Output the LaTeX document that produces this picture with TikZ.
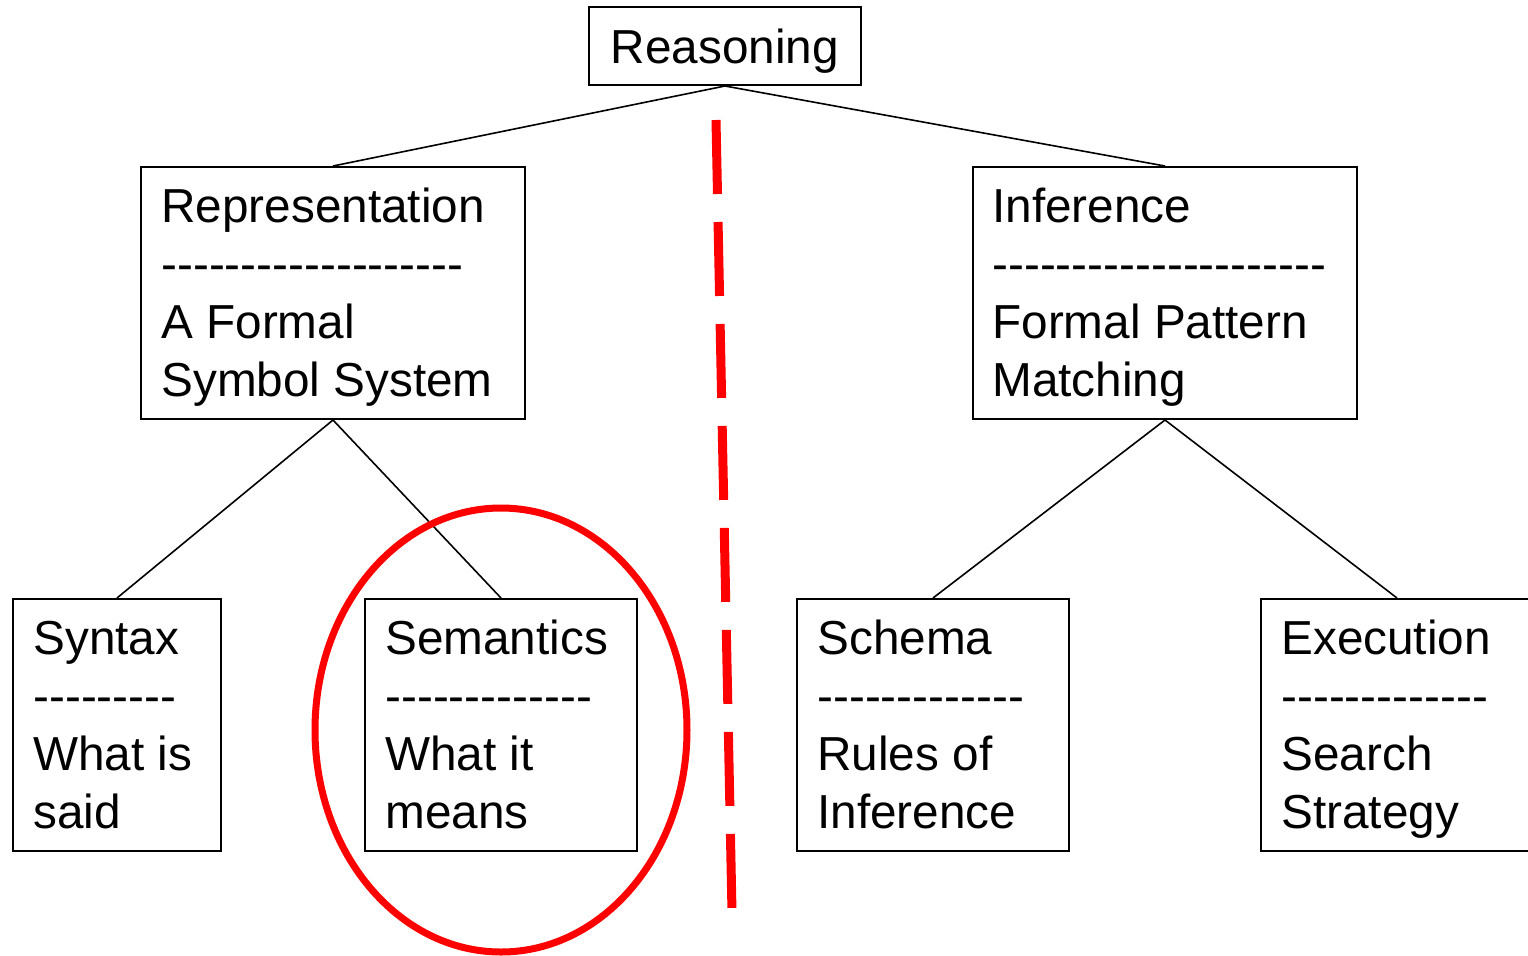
\documentclass[tikz,border=0pt]{standalone}
\usepackage{fontspec}
\newfontfamily\arial{Liberation Sans}
\usetikzlibrary{shapes.geometric}
\begin{document}
\begin{tikzpicture}[x=0.5pt,y=-0.5pt,
  box/.style={draw, line width=1pt, rectangle, inner sep=0pt},
  bigbox/.style={box, minimum width=192pt, minimum height=126pt},
  smallbox/.style={box, minimum width=136pt, minimum height=126pt},
  txt/.style={font=\arial\fontsize{23.85}{29}\selectfont, align=left, inner sep=0pt, anchor=base west},
  conn/.style={line width=0.8pt},
  hilite/.style={ellipse, draw=red, line width=3.5pt, inner sep=0pt},
  divider/.style={draw=red, line width=4.5pt, dash pattern=on 37pt off 14pt}]
\useasboundingbox (0,0) rectangle (1528,955);
% boxes
\node[box, minimum width=136pt, minimum height=39pt, text depth=0pt, font=\arial\fontsize{23.85}{29}\selectfont] (reas) at (725,46) {Reasoning};
\node[bigbox] (rep) at (333,293) {};
\node[bigbox] (inf) at (1165,293) {};
\node[box, minimum width=104pt, minimum height=126pt] (syn) at (117,725) {};
\node[smallbox] (sem) at (501,725) {};
\node[smallbox] (sch) at (933,725) {};
\node[smallbox] (exe) at (1397,725) {};
% texts (anchor = baseline of last line)
\node[txt] (repT) at ([shift={(21,230)}]rep.north west) {Representation\\-------------------\\A Formal\\Symbol System};
\node[txt] (infT) at ([shift={(20,230)}]inf.north west) {Inference\\---------------------\\Formal Pattern\\Matching};
\node[txt] (synT) at ([shift={(21,230)}]syn.north west) {Syntax\\---------\\What is\\said};
\node[txt] (semT) at ([shift={(21,230)}]sem.north west) {Semantics\\-------------\\What it\\means};
\node[txt] (schT) at ([shift={(21,230)}]sch.north west) {Schema\\-------------\\Rules of\\Inference};
\node[txt] (exeT) at ([shift={(21,230)}]exe.north west) {Execution\\-------------\\Search\\Strategy};
% connectors
\draw[conn] (reas.south) -- (rep.north);
\draw[conn] (reas.south) -- (inf.north);
\draw[conn] (rep.south) -- (syn.north);
\draw[conn] (rep.south) -- (sem.north);
\draw[conn] (inf.south) -- (sch.north);
\draw[conn] (inf.south) -- (exe.north);
% highlight
\node[hilite, minimum width=186pt, minimum height=222pt] (hl) at (501,730) {};
\coordinate (d1) at (716,120);
\coordinate (d2) at (732,912);
\draw[divider] (d1) -- (d2);
\end{tikzpicture}
\end{document}
